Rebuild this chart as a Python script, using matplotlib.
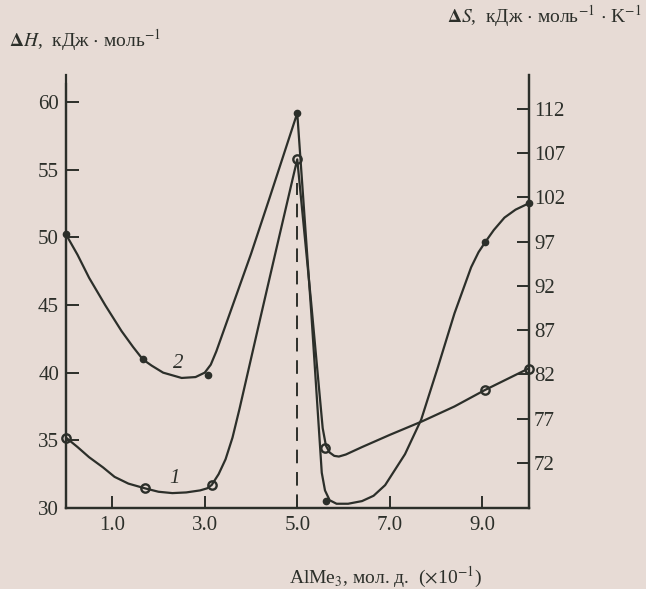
import matplotlib.pyplot as plt

plt.rcParams['font.family'] = ['Liberation Serif', 'DejaVu Serif']
plt.rcParams['mathtext.fontset'] = 'stix'

BG = '#e7dbd5'
INK = '#2c2f2a'

# кривая 1 (ΔH, левая ось) - ход линии
x1 = [0.0, 0.25, 0.5, 0.8, 1.05, 1.35, 1.71, 2.0, 2.3, 2.6, 2.9, 3.05, 3.15,
      3.3, 3.45, 3.6, 3.75, 4.2, 4.6, 4.9, 5.0, 5.3, 5.55, 5.62, 5.7, 5.8,
      5.9, 6.05, 6.4, 7.0, 7.7, 8.4, 9.05, 10.0]
y1 = [35.2, 34.5, 33.75, 33.0, 32.3, 31.8, 31.45, 31.2, 31.1, 31.15, 31.3,
      31.45, 31.7, 32.5, 33.6, 35.2, 37.3, 44.0, 49.9, 54.3, 55.75, 45.2,
      35.9, 34.6, 34.1, 33.85, 33.8, 33.95, 34.5, 35.4, 36.4, 37.5, 38.7, 40.3]
# точки кривой 1 (открытые кружки)
px1 = [0.0, 1.71, 3.15, 5.0, 5.59, 9.05, 10.0]
py1 = [35.2, 31.45, 31.7, 55.75, 34.4, 38.7, 40.3]

# кривая 2 (ΔS, правая ось)
x2 = [0.0, 0.25, 0.5, 0.85, 1.2, 1.45, 1.66, 1.85, 2.1, 2.5, 2.8, 3.0, 3.13,
      3.25, 3.4, 3.7, 4.0, 4.4, 4.8, 5.0, 5.3, 5.5, 5.53, 5.6, 5.7, 5.85,
      6.1, 6.4, 6.65, 6.9, 7.33, 7.68, 8.04, 8.4, 8.76, 8.92, 9.06, 9.25,
      9.48, 9.72, 10.0]
y2 = [97.8, 95.5, 92.9, 89.8, 86.9, 85.1, 83.7, 83.0, 82.2, 81.6, 81.7, 82.2,
      83.1, 84.6, 86.8, 91.2, 95.6, 101.9, 108.3, 111.5, 89.2, 73.3, 70.9,
      68.9, 67.8, 67.4, 67.4, 67.7, 68.3, 69.5, 73.0, 76.9, 82.8, 88.9, 94.1,
      95.8, 96.9, 98.3, 99.7, 100.6, 101.3]
# точки кривой 2 (заполненные)
px2 = [0.0, 1.66, 3.06, 5.0, 5.63, 9.06, 10.0]
py2 = [97.8, 83.7, 81.9, 111.5, 67.7, 96.9, 101.3]

xticks = [1.0, 3.0, 5.0, 7.0, 9.0]
xlabels = ['1.0', '3.0', '5.0', '7.0', '9.0']
lticks = [30, 35, 40, 45, 50, 55, 60]
rticks = [72, 77, 82, 87, 92, 97, 102, 107, 112]

fig = plt.figure(figsize=(6.46, 5.89), dpi=100, facecolor=BG)
ax = fig.add_axes([66 / 646, 1 - 508 / 589, (528.5 - 66) / 646, (508 - 75) / 589])
ax.set_facecolor(BG)
ax.set_xlim(0, 10)
ax.set_ylim(30, 61.98)
ax2 = ax.twinx()
ax2.set_ylim(66.92, 115.8)

ax.plot(x1, y1, color=INK, lw=1.6, solid_joinstyle='round')
ax.plot(px1, py1, 'o', ms=6, mfc='none', mec=INK, mew=1.7, clip_on=False)
ax2.plot(x2, y2, color=INK, lw=1.6, solid_joinstyle='round')
ax2.plot(px2, py2, 'o', ms=4.5, color=INK, clip_on=False)

ax.plot([5.0, 5.0], [30, 54.0], color=INK, lw=1.4, dashes=(7, 4.5))

ax.text(2.34, 32.2, '1', fontsize=15, style='italic', color=INK, ha='center', va='center')
ax.text(2.43, 40.7, '2', fontsize=15, style='italic', color=INK, ha='center', va='center')

for a in (ax, ax2):
    a.spines['top'].set_visible(False)
    for s in a.spines.values():
        s.set_color(INK)
        s.set_linewidth(1.6)
ax.spines['left'].set_bounds(30, 61.3)

ax.set_xticks(xticks, xlabels)
ax.set_yticks(lticks)
ax2.set_yticks(rticks)
ax.tick_params(direction='in', length=9, width=1.4, color=INK, labelcolor=INK,
               labelsize=15, pad=6)
ax.tick_params(axis='y', pad=5)
ax2.tick_params(direction='in', length=9, width=1.4, color=INK, labelcolor=INK,
                labelsize=15, pad=4)

fig.text(9 / 646, 1 - 40 / 589, r'$\mathbf{\Delta}\mathit{H}$,  кДж $\cdot$ моль$^{-1}$',
         fontsize=14, color=INK, ha='left', va='center')
fig.text(642 / 646, 1 - 16 / 589,
         r'$\mathbf{\Delta}\mathit{S}$,  кДж $\cdot$ моль$^{-1}$ $\cdot$ K$^{-1}$',
         fontsize=14, color=INK, ha='right', va='center')
fig.text(386 / 646, 1 - 577 / 589, r'AlMe$_3$, мол. д.  ($\times$10$^{-1}$)',
         fontsize=14, color=INK, ha='center', va='center')

fig.savefig('out.png', dpi=100, facecolor=BG)
